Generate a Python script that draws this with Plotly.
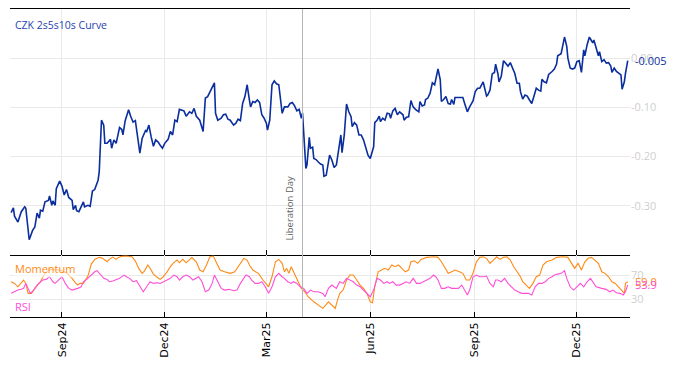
import plotly.graph_objects as go
from plotly.subplots import make_subplots

title_text = "CZK 2s5s10s Curve"

curve_dates = [
"2024-07-18","2024-07-20","2024-07-21","2024-07-24","2024-07-27","2024-07-30","2024-07-31","2024-08-03","2024-08-06","2024-08-08",
"2024-08-10","2024-08-12","2024-08-13","2024-08-15","2024-08-17","2024-08-20","2024-08-21","2024-08-23","2024-08-24","2024-08-26",
"2024-08-27","2024-08-30","2024-09-01","2024-09-03","2024-09-05","2024-09-07","2024-09-10","2024-09-11","2024-09-13","2024-09-14",
"2024-09-16","2024-09-18","2024-09-20","2024-09-21","2024-09-24","2024-09-26","2024-09-28","2024-09-30","2024-10-03","2024-10-04",
"2024-10-06","2024-10-08","2024-10-09","2024-10-11","2024-10-14","2024-10-15","2024-10-17","2024-10-19","2024-10-22","2024-10-24",
"2024-10-25","2024-10-27","2024-10-30","2024-11-01","2024-11-03","2024-11-05","2024-11-07","2024-11-09","2024-11-11","2024-11-14",
"2024-11-15","2024-11-17","2024-11-19","2024-11-21","2024-11-23","2024-11-25","2024-11-27","2024-11-29","2024-12-01","2024-12-04",
"2024-12-06","2024-12-08","2024-12-10","2024-12-12","2024-12-14","2024-12-16","2024-12-18","2024-12-20","2024-12-23","2024-12-25",
"2024-12-27","2024-12-29","2025-01-01","2025-01-04","2025-01-06","2025-01-08","2025-01-10","2025-01-12","2025-01-14","2025-01-15",
"2025-01-17","2025-01-20","2025-01-22","2025-01-24","2025-01-26","2025-01-28","2025-01-31","2025-02-02","2025-02-04","2025-02-06",
"2025-02-08","2025-02-10","2025-02-12","2025-02-14","2025-02-15","2025-02-17","2025-02-19","2025-02-21","2025-02-23","2025-02-25",
"2025-02-27","2025-03-01","2025-03-02","2025-03-04","2025-03-06","2025-03-08","2025-03-10","2025-03-12","2025-03-14","2025-03-15",
"2025-03-17","2025-03-20","2025-03-22","2025-03-24","2025-03-26","2025-03-28","2025-03-30","2025-04-01","2025-04-02","2025-04-03",
"2025-04-05","2025-04-06","2025-04-08","2025-04-09","2025-04-11","2025-04-12","2025-04-14","2025-04-16","2025-04-18","2025-04-20",
"2025-04-21","2025-04-23","2025-04-26","2025-04-28","2025-04-30","2025-05-02","2025-05-04","2025-05-06","2025-05-07","2025-05-09",
"2025-05-11","2025-05-13","2025-05-15","2025-05-16","2025-05-18","2025-05-20","2025-05-22","2025-05-24","2025-05-26","2025-05-28",
"2025-05-30","2025-06-01","2025-06-04","2025-06-05","2025-06-07","2025-06-09","2025-06-10","2025-06-12","2025-06-14","2025-06-16",
"2025-06-18","2025-06-19","2025-06-21","2025-06-23","2025-06-25","2025-06-27","2025-06-30","2025-07-01","2025-07-03","2025-07-05",
"2025-07-07","2025-07-09","2025-07-11","2025-07-14","2025-07-15","2025-07-17","2025-07-19","2025-07-20","2025-07-22","2025-07-24",
"2025-07-26","2025-07-28","2025-07-29","2025-07-31","2025-08-02","2025-08-03","2025-08-05","2025-08-07","2025-08-09","2025-08-11",
"2025-08-12","2025-08-14","2025-08-15","2025-08-19","2025-08-22","2025-08-24","2025-08-26","2025-08-28","2025-08-31","2025-09-02",
"2025-09-04","2025-09-06","2025-09-07","2025-09-09","2025-09-10","2025-09-12","2025-09-13","2025-09-15","2025-09-17","2025-09-19",
"2025-09-20","2025-09-22","2025-09-23","2025-09-25","2025-09-27","2025-09-29","2025-10-01","2025-10-03","2025-10-05","2025-10-07",
"2025-10-09","2025-10-11","2025-10-12","2025-10-14","2025-10-16","2025-10-18","2025-10-20","2025-10-22","2025-10-24","2025-10-26",
"2025-10-28","2025-10-30","2025-10-31","2025-11-02","2025-11-04","2025-11-06","2025-11-09","2025-11-11","2025-11-13","2025-11-14",
"2025-11-17","2025-11-18","2025-11-20","2025-11-22","2025-11-23","2025-11-25","2025-11-27","2025-11-29","2025-12-01","2025-12-03",
"2025-12-05","2025-12-07","2025-12-08","2025-12-10","2025-12-12","2025-12-13","2025-12-15","2025-12-16","2025-12-18","2025-12-20",
"2025-12-21","2025-12-23","2025-12-25","2025-12-27","2025-12-29","2025-12-31","2026-01-01","2026-01-03","2026-01-05","2026-01-07",
"2026-01-09","2026-01-10","2026-01-12","2026-01-13","2026-01-15"]

curve_vals = [
-0.314,-0.304,-0.321,-0.333,-0.312,-0.302,-0.305,-0.369,-0.350,-0.343,
-0.315,-0.325,-0.309,-0.311,-0.292,-0.289,-0.280,-0.299,-0.290,-0.299,
-0.265,-0.250,-0.260,-0.278,-0.267,-0.283,-0.289,-0.308,-0.299,-0.310,
-0.312,-0.302,-0.292,-0.302,-0.299,-0.301,-0.270,-0.267,-0.248,-0.231,
-0.126,-0.136,-0.173,-0.173,-0.165,-0.183,-0.166,-0.173,-0.141,-0.145,
-0.156,-0.127,-0.105,-0.119,-0.130,-0.127,-0.166,-0.193,-0.163,-0.147,
-0.149,-0.136,-0.160,-0.179,-0.166,-0.170,-0.177,-0.183,-0.173,-0.165,
-0.149,-0.156,-0.126,-0.129,-0.104,-0.105,-0.107,-0.118,-0.109,-0.112,
-0.102,-0.118,-0.126,-0.149,-0.081,-0.078,-0.068,-0.058,-0.050,-0.112,
-0.126,-0.122,-0.115,-0.114,-0.124,-0.126,-0.136,-0.132,-0.124,-0.127,
-0.092,-0.078,-0.054,-0.085,-0.099,-0.088,-0.090,-0.085,-0.090,-0.115,
-0.122,-0.132,-0.146,-0.126,-0.054,-0.046,-0.052,-0.054,-0.088,-0.112,
-0.099,-0.099,-0.092,-0.090,-0.097,-0.107,-0.104,-0.122,-0.111,-0.146,
-0.224,-0.217,-0.161,-0.183,-0.181,-0.204,-0.206,-0.211,-0.215,-0.217,
-0.240,-0.238,-0.197,-0.207,-0.222,-0.217,-0.183,-0.156,-0.192,-0.156,
-0.093,-0.109,-0.119,-0.139,-0.131,-0.136,-0.156,-0.156,-0.166,-0.180,
-0.197,-0.204,-0.180,-0.131,-0.126,-0.118,-0.129,-0.122,-0.126,-0.112,
-0.113,-0.122,-0.107,-0.102,-0.115,-0.109,-0.115,-0.126,-0.120,-0.119,
-0.086,-0.099,-0.104,-0.109,-0.088,-0.097,-0.095,-0.084,-0.081,-0.071,
-0.050,-0.054,-0.044,-0.022,-0.044,-0.088,-0.084,-0.078,-0.092,-0.093,
-0.084,-0.094,-0.080,-0.080,-0.080,-0.095,-0.109,-0.099,-0.087,-0.068,
-0.061,-0.061,-0.056,-0.048,-0.058,-0.077,-0.075,-0.065,-0.032,-0.029,
-0.012,-0.031,-0.048,-0.037,-0.005,-0.010,-0.016,-0.009,-0.022,-0.031,
-0.051,-0.051,-0.068,-0.083,-0.075,-0.077,-0.085,-0.092,-0.077,-0.061,
-0.065,-0.067,-0.043,-0.048,-0.050,-0.033,-0.027,-0.022,-0.012,0.005,
0.009,0.022,0.043,0.024,0.000,-0.020,-0.022,-0.020,-0.007,-0.005,
-0.029,0.017,0.005,0.027,0.043,0.039,0.031,0.037,0.020,0.005,
0.013,-0.007,-0.003,-0.010,-0.009,-0.016,-0.029,-0.020,-0.027,-0.031,
-0.034,-0.063,-0.048,-0.031,-0.005]

mom_dates = [
"2024-07-18","2024-07-21","2024-07-24","2024-07-27","2024-07-29","2024-07-31","2024-08-02","2024-08-05","2024-08-08","2024-08-13",
"2024-08-17","2024-08-21","2024-08-26","2024-08-30","2024-09-05","2024-09-10","2024-09-13","2024-09-15","2024-09-17","2024-09-20",
"2024-09-24","2024-09-27","2024-09-30","2024-10-04","2024-10-07","2024-10-11","2024-10-13","2024-10-16","2024-10-19","2024-10-21",
"2024-10-24","2024-10-28","2024-11-02","2024-11-05","2024-11-08","2024-11-11","2024-11-13","2024-11-16","2024-11-18","2024-11-21",
"2024-11-24","2024-11-27","2024-11-29","2024-12-03","2024-12-06","2024-12-09","2024-12-12","2024-12-14","2024-12-17","2024-12-20",
"2024-12-25","2024-12-29","2025-01-01","2025-01-04","2025-01-07","2025-01-10","2025-01-13","2025-01-16","2025-01-19","2025-01-23",
"2025-01-28","2025-02-01","2025-02-06","2025-02-09","2025-02-12","2025-02-14","2025-02-17","2025-02-22","2025-02-26","2025-03-03",
"2025-03-06","2025-03-09","2025-03-12","2025-03-15","2025-03-17","2025-03-19","2025-03-21","2025-03-23","2025-03-26","2025-03-29",
"2025-04-01","2025-04-04","2025-04-07","2025-04-12","2025-04-16","2025-04-20","2025-04-25","2025-04-28","2025-05-01","2025-05-03",
"2025-05-05","2025-05-08","2025-05-11","2025-05-14","2025-05-17","2025-05-20","2025-05-23","2025-05-26","2025-05-29","2025-06-01",
"2025-06-03","2025-06-05","2025-06-08","2025-06-11","2025-06-14","2025-06-17","2025-06-20","2025-06-23","2025-06-26","2025-06-29",
"2025-07-02","2025-07-05","2025-07-07","2025-07-10","2025-07-13","2025-07-16","2025-07-21","2025-07-27","2025-07-31","2025-08-03",
"2025-08-06","2025-08-09","2025-08-12","2025-08-15","2025-08-19","2025-08-22","2025-08-25","2025-08-28","2025-08-31","2025-09-03",
"2025-09-06","2025-09-09","2025-09-12","2025-09-15","2025-09-18","2025-09-21","2025-09-24","2025-09-27","2025-09-30","2025-10-03",
"2025-10-06","2025-10-09","2025-10-12","2025-10-14","2025-10-17","2025-10-20","2025-10-23","2025-10-26","2025-10-29","2025-11-01",
"2025-11-04","2025-11-09","2025-11-13","2025-11-19","2025-11-23","2025-11-26","2025-11-29","2025-12-02","2025-12-05","2025-12-08",
"2025-12-11","2025-12-14","2025-12-17","2025-12-20","2025-12-23","2025-12-26","2025-12-29","2026-01-01","2026-01-04","2026-01-07",
"2026-01-10","2026-01-12","2026-01-13","2026-01-15"]

mom_vals = [
59.0,56.3,50.7,57.3,61.8,56.3,39.9,39.9,48.1,59.0,
72.8,79.4,79.4,78.2,73.8,64.6,57.3,53.5,56.3,56.3,
68.4,88.1,95.8,99.1,97.5,91.9,95.8,99.6,95.8,99.1,
100.8,101.3,100.1,93.0,81.0,72.8,76.6,86.5,81.5,71.6,
66.7,62.9,65.9,74.9,84.0,90.6,94.7,90.2,95.8,90.2,
98.8,91.9,78.2,75.4,86.5,100.1,101.3,89.3,78.2,75.4,
72.8,75.4,89.3,97.5,94.7,86.5,78.2,72.8,61.8,50.7,
67.2,91.9,95.8,89.3,75.4,81.0,72.8,83.7,71.6,59.0,
48.1,42.5,34.3,26.0,20.6,15.2,26.0,20.6,15.2,28.8,
39.9,45.3,61.8,70.0,70.0,61.8,53.5,48.1,39.9,26.0,
24.4,50.7,75.4,78.2,81.0,78.2,86.5,83.7,86.5,81.0,
75.4,78.2,91.9,93.5,89.3,95.8,99.1,100.1,99.1,91.9,
81.0,72.8,75.4,78.2,75.4,72.8,61.8,61.8,72.8,91.9,
99.1,100.1,97.5,89.3,94.7,100.1,95.8,99.1,100.1,94.7,
83.7,75.4,67.2,59.0,53.5,48.1,56.3,67.2,70.0,86.5,
91.9,94.7,99.1,100.1,99.1,89.3,81.0,89.3,78.2,91.9,
97.5,99.1,94.7,89.3,75.4,72.8,67.2,59.0,56.3,50.7,
45.3,39.9,56.3,59.0]

rsi_dates = [
"2024-07-18","2024-07-21","2024-07-24","2024-07-27","2024-07-29","2024-07-31","2024-08-02","2024-08-04","2024-08-07","2024-08-10",
"2024-08-13","2024-08-15","2024-08-18","2024-08-21","2024-08-24","2024-08-26","2024-08-29","2024-09-01","2024-09-04","2024-09-07",
"2024-09-10","2024-09-13","2024-09-15","2024-09-18","2024-09-20","2024-09-23","2024-09-27","2024-09-30","2024-10-02","2024-10-05",
"2024-10-08","2024-10-11","2024-10-13","2024-10-16","2024-10-19","2024-10-22","2024-10-26","2024-10-28","2024-10-31","2024-11-03",
"2024-11-06","2024-11-09","2024-11-12","2024-11-15","2024-11-18","2024-11-21","2024-11-24","2024-11-27","2024-11-30","2024-12-03",
"2024-12-06","2024-12-09","2024-12-12","2024-12-14","2024-12-17","2024-12-20","2024-12-23","2024-12-26","2024-12-31","2025-01-03",
"2025-01-06","2025-01-09","2025-01-12","2025-01-14","2025-01-17","2025-01-20","2025-01-23","2025-01-27","2025-01-31","2025-02-03",
"2025-02-06","2025-02-09","2025-02-11","2025-02-14","2025-02-16","2025-02-19","2025-02-22","2025-02-25","2025-02-28","2025-03-03",
"2025-03-06","2025-03-09","2025-03-12","2025-03-15","2025-03-17","2025-03-20","2025-03-23","2025-03-25","2025-03-28","2025-03-31",
"2025-04-03","2025-04-06","2025-04-09","2025-04-12","2025-04-16","2025-04-20","2025-04-22","2025-04-25","2025-04-28","2025-04-30",
"2025-05-02","2025-05-05","2025-05-08","2025-05-11","2025-05-14","2025-05-17","2025-05-20","2025-05-23","2025-05-26","2025-05-29",
"2025-06-01","2025-06-04","2025-06-07","2025-06-10","2025-06-13","2025-06-16","2025-06-18","2025-06-21","2025-06-24","2025-06-27",
"2025-06-30","2025-07-03","2025-07-06","2025-07-09","2025-07-12","2025-07-15","2025-07-18","2025-07-21","2025-07-24","2025-07-27",
"2025-07-29","2025-07-31","2025-08-03","2025-08-06","2025-08-09","2025-08-12","2025-08-15","2025-08-18","2025-08-21","2025-08-24",
"2025-08-26","2025-08-28","2025-08-31","2025-09-03","2025-09-06","2025-09-09","2025-09-12","2025-09-15","2025-09-18","2025-09-20",
"2025-09-22","2025-09-25","2025-09-28","2025-10-01","2025-10-04","2025-10-07","2025-10-10","2025-10-13","2025-10-16","2025-10-19",
"2025-10-22","2025-10-25","2025-10-28","2025-10-31","2025-11-03","2025-11-06","2025-11-09","2025-11-11","2025-11-14","2025-11-17",
"2025-11-20","2025-11-22","2025-11-25","2025-11-28","2025-12-01","2025-12-04","2025-12-07","2025-12-10","2025-12-13","2025-12-15",
"2025-12-18","2025-12-23","2025-12-27","2025-12-30","2026-01-02","2026-01-05","2026-01-08","2026-01-11","2026-01-13","2026-01-15"]

rsi_vals = [
39.9,42.5,45.3,46.5,48.1,56.3,46.5,39.9,45.3,53.5,
59.0,61.8,62.9,67.2,59.0,56.3,61.8,67.2,56.3,48.1,
45.3,46.5,48.1,50.7,59.0,62.9,70.0,75.4,77.1,71.6,
64.6,62.9,59.0,60.1,61.8,64.6,70.0,67.2,64.6,59.0,
60.6,50.7,42.5,50.7,59.0,56.3,57.3,56.3,59.0,61.8,
64.6,70.0,67.2,61.8,67.2,70.0,67.2,61.8,67.2,59.0,
42.5,45.3,56.3,70.0,59.0,48.1,45.3,46.5,44.2,45.3,
56.3,64.6,70.0,67.2,61.8,56.3,56.3,59.0,50.7,39.9,
50.7,67.2,72.8,67.2,64.6,59.0,56.3,59.0,56.3,50.7,
48.1,39.9,45.3,42.5,42.5,39.9,34.3,48.1,53.5,50.7,
48.1,59.0,56.3,64.6,61.8,59.0,53.5,50.7,45.3,39.9,
34.3,45.3,64.6,61.8,56.3,59.0,56.3,59.0,53.5,53.5,
56.3,59.0,56.3,64.6,56.3,56.3,59.0,61.8,64.6,70.0,
67.2,61.8,48.1,48.1,50.7,48.1,48.1,48.1,53.5,42.5,
37.1,45.3,67.2,70.0,67.2,67.2,68.4,56.3,50.7,61.8,
61.8,59.0,64.6,56.3,50.7,45.3,42.5,39.9,39.9,39.9,
37.1,50.7,56.3,56.3,59.0,64.6,67.2,70.0,71.6,72.8,
77.1,64.6,50.7,45.3,50.7,56.3,50.7,59.0,64.6,59.0,
50.7,48.1,46.5,42.5,45.3,40.9,39.9,37.1,42.5,53.9]

tick_dates = ["2024-09-01", "2024-12-01", "2025-03-01", "2025-06-01", "2025-09-01", "2025-12-01"]
tick_labels = ["Sep24", "Dec24", "Mar25", "Jun25", "Sep25", "Dec25"]
curve_ticks = [0.0, -0.1, -0.2, -0.3]
curve_tick_text = ["0.00", "-0.10", "-0.20", "-0.30"]
osc_ticks = [30, 70]
event_date = "2025-04-02"
event_label = "Liberation Day"
x_range = ["2024-07-17", "2026-01-17"]

BLUE = "#0b2e9e"
ORANGE = "#ff8a14"
MAGENTA = "#ff4fd8"
GRID = "#e9e9e9"
TICKGRAY = "#cfcfcf"
FONT = "Open Sans"

fig = make_subplots(rows=2, cols=1, shared_xaxes=True, vertical_spacing=0,
                    row_heights=[0.7987, 0.2013])

fig.add_trace(go.Scatter(x=curve_dates, y=curve_vals, mode="lines",
                         line=dict(color=BLUE, width=1.6), showlegend=False), row=1, col=1)
fig.add_trace(go.Scatter(x=mom_dates, y=mom_vals, mode="lines",
                         line=dict(color=ORANGE, width=1.1), showlegend=False), row=2, col=1)
fig.add_trace(go.Scatter(x=rsi_dates, y=rsi_vals, mode="lines",
                         line=dict(color=MAGENTA, width=1.1), showlegend=False), row=2, col=1)

xcommon = dict(range=x_range, tickmode="array", tickvals=tick_dates, ticktext=tick_labels,
               showgrid=True, gridcolor=GRID, gridwidth=1, showline=True, linecolor="black",
               linewidth=1.3, ticks="inside", ticklen=5, tickcolor="black",
               tickwidth=1, zeroline=False)
fig.update_xaxes(**xcommon, mirror=True, showticklabels=False, row=1, col=1)
fig.update_xaxes(**xcommon, mirror=False, showticklabels=True, tickangle=-90,
                 tickfont=dict(family="DejaVu Sans", size=11, color="black"), row=2, col=1)

fig.update_yaxes(range=[-0.4, 0.1], side="right", tickmode="array", tickvals=curve_ticks,
                 ticktext=curve_tick_text, showgrid=True, gridcolor=GRID, zeroline=False,
                 showline=False, ticks="", tickfont=dict(family=FONT, size=11, color=TICKGRAY),
                 row=1, col=1)
fig.update_yaxes(range=[1, 103], side="right", tickmode="array", tickvals=osc_ticks,
                 showgrid=True, gridcolor=GRID, zeroline=False, showline=False, ticks="",
                 tickfont=dict(family=FONT, size=11, color=TICKGRAY), row=2, col=1)

# event line across both panels
fig.add_shape(type="line", xref="x", yref="paper", x0=event_date, x1=event_date, y0=0, y1=1,
              line=dict(color="#b5b5b5", width=1))
fig.add_annotation(x=event_date, xref="x", y=0.24, yref="paper", text=event_label,
                   textangle=-90, showarrow=False, xanchor="right", yanchor="bottom", xshift=-4,
                   font=dict(family=FONT, size=9.5, color="#5f5f5f"))

fig.add_annotation(x=0.005, xref="paper", y=0.99, yref="paper", text=title_text, showarrow=False,
                   xanchor="left", yanchor="top", yshift=-4,
                   font=dict(family=FONT, size=10.5, color="#1f3fae"))
fig.add_annotation(x=0.005, xref="paper", y=81, yref="y2", text="Momentum", showarrow=False,
                   xanchor="left", yanchor="middle", bgcolor="rgba(255,255,255,0.6)",
                   font=dict(family=FONT, size=11, color=ORANGE))
fig.add_annotation(x=0.005, xref="paper", y=18, yref="y2", text="RSI", showarrow=False,
                   xanchor="left", yanchor="middle",
                   font=dict(family=FONT, size=11, color=MAGENTA))

# last value labels
fig.add_annotation(x=1, xref="paper", y=curve_vals[-1], yref="y", text=f"{curve_vals[-1]:.3f}",
                   showarrow=False, xanchor="left", xshift=3,
                   font=dict(family=FONT, size=11, color=BLUE))
fig.add_annotation(x=1, xref="paper", y=mom_vals[-1], yref="y2", text=f"{mom_vals[-1]:.1f}",
                   showarrow=False, xanchor="left", xshift=3,
                   font=dict(family=FONT, size=11, color=ORANGE))
fig.add_annotation(x=1, xref="paper", y=rsi_vals[-1], yref="y2", text=f"{rsi_vals[-1]:.1f}",
                   showarrow=False, xanchor="left", xshift=3,
                   font=dict(family=FONT, size=11, color=MAGENTA))

# the page places the figure 8px in from the top-left corner
fig.update_layout(width=670, height=358, margin=dict(l=2, r=48, t=1, b=49),
                  paper_bgcolor="white", plot_bgcolor="white", showlegend=False,
                  font=dict(family=FONT))

fig.write_html("out.html")
